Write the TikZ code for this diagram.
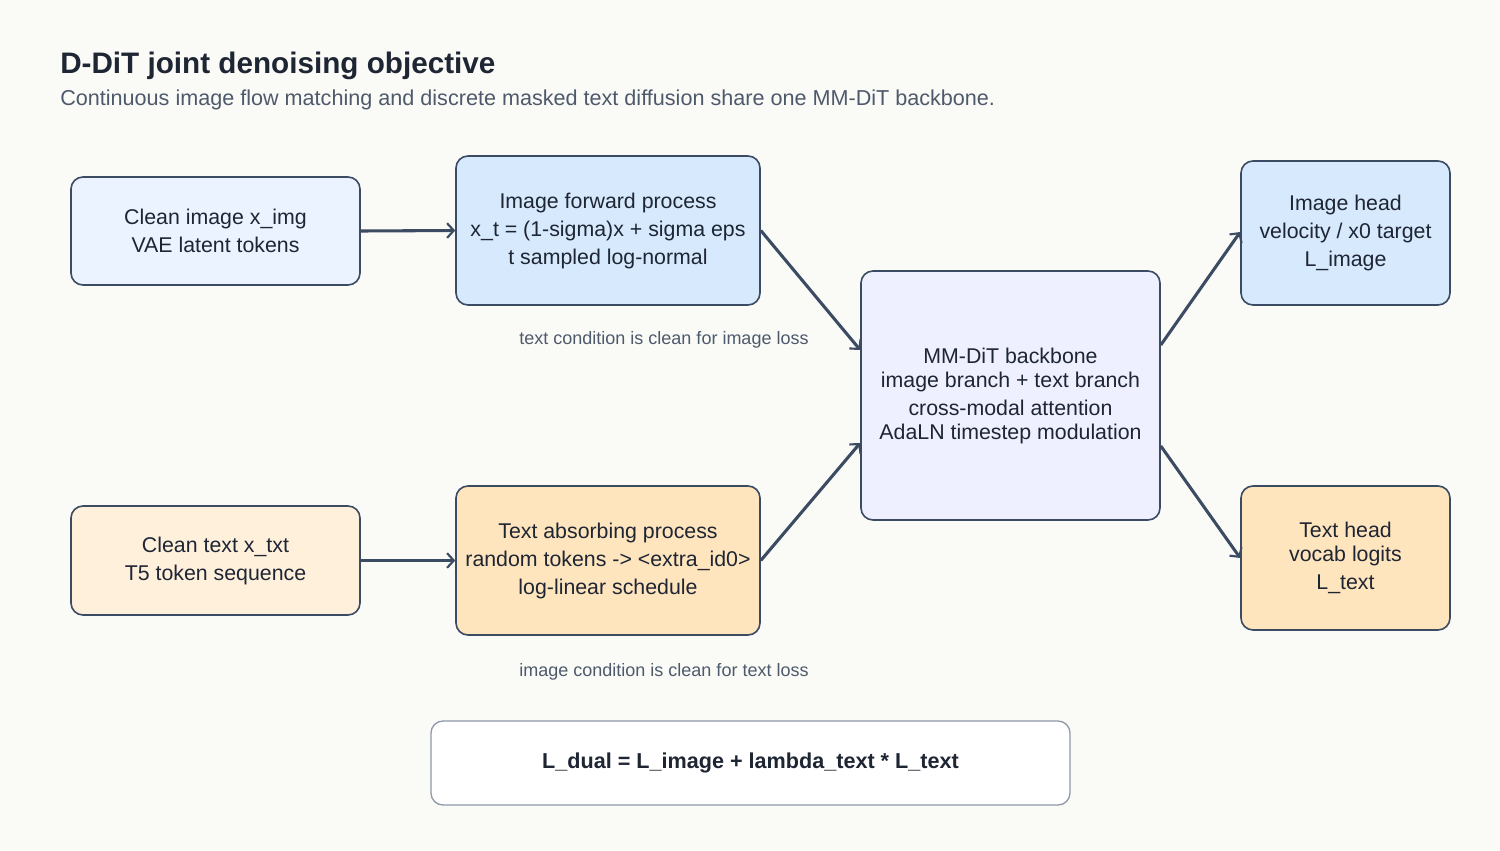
\documentclass[tikz,border=0pt]{standalone}
\usepackage{fontspec}
\setmainfont{Liberation Sans}
\usetikzlibrary{arrows.meta,calc}
\definecolor{bg}{HTML}{FAFAF7}
\definecolor{edge}{HTML}{3B4B62}
\definecolor{ink}{HTML}{1E2533}
\definecolor{sub}{HTML}{4E5A6B}
\definecolor{fA}{HTML}{EAF3FF}
\definecolor{fB}{HTML}{D6E9FD}
\definecolor{fC}{HTML}{EEF0FF}
\definecolor{fE}{HTML}{FFF0DC}
\definecolor{fF}{HTML}{FFE5BE}
\definecolor{fH}{HTML}{FFFFFF}
\definecolor{hb}{HTML}{8E99A8}
\begin{document}
\begin{tikzpicture}[x=0.75pt,y=-0.75pt,
  box/.style={draw=edge, line width=1.2pt, rounded corners=9pt, align=center, inner sep=0pt, text=ink,
     font=\fontsize{16pt}{21pt}\selectfont},
  conn/.style={draw=edge, line width=2.3pt, -{Straight Barb[length=5pt,width=11pt,line width=1.6pt]}},
  note/.style={text=sub, font=\fontsize{13.5pt}{16pt}\selectfont, inner sep=0pt}]
\useasboundingbox[fill=bg] (0,0) rectangle (1500,850);

\node[anchor=base west, inner sep=0pt, text=ink, font=\bfseries\fontsize{22.25pt}{27pt}\selectfont] (title) at (60,73) {D-DiT joint denoising objective};
\node[anchor=base west, inner sep=0pt, text=sub, font=\fontsize{16.2pt}{19pt}\selectfont] (subtitle) at (60,105) {Continuous image flow matching and discrete masked text diffusion share one MM-DiT backbone.};

\node[box, fill=fA, minimum width={289*0.75pt}, minimum height={108*0.75pt}] (A) at (215.5,231) {Clean image x\_img\\VAE latent tokens};
\node[box, fill=fB, minimum width={304*0.75pt}, minimum height={149*0.75pt}] (B) at (608,230.5) {Image forward process\\x\_t = (1-sigma)x + sigma eps\\t sampled log-normal};
\node[box, fill=fC, minimum width={299*0.75pt}, minimum height={249*0.75pt}, font=\fontsize{16pt}{18pt}\selectfont] (C) at (1010.5,395.5) {MM-DiT backbone\\image branch + text branch\\[3pt]cross-modal attention\\AdaLN timestep modulation};
\node[box, fill=fB, minimum width={209*0.75pt}, minimum height={144*0.75pt}] (D) at (1345.5,233) {Image head\\velocity / x0 target\\L\_image};
\node[box, fill=fE, minimum width={289*0.75pt}, minimum height={109*0.75pt}] (E) at (215.5,560.5) {Clean text x\_txt\\T5 token sequence};
\node[box, fill=fF, minimum width={304*0.75pt}, minimum height={149*0.75pt}] (F) at (608,560.5) {Text absorbing process\\random tokens -> <extra\_id0>\\log-linear schedule};
\node[box, fill=fF, minimum width={209*0.75pt}, minimum height={144*0.75pt}, font=\fontsize{16pt}{18pt}\selectfont] (G) at (1345.5,558) {Text head\\vocab logits\\[3pt]L\_text};
\node[box, fill=fH, draw=hb, line width=1pt, minimum width={639*0.75pt}, minimum height={84*0.75pt}, font=\bfseries\fontsize{16.2pt}{18pt}\selectfont] (H) at (750.5,763) {L\_dual = L\_image + lambda\_text * L\_text};

\node[note] (n1) at (664,340) {text condition is clean for image loss};
\node[note] (n2) at (664,672) {image condition is clean for text loss};

\draw[conn] (A.east) -- (B.west);
\draw[conn] (E.east) -- (F.west);
\draw[conn] (B.east) -- ($(C.west)+(0,-45.5)$);
\draw[conn] (F.east) -- ($(C.west)+(0,47.5)$);
\draw[conn] ($(C.east)+(0,-50.5)$) -- ($(D.west)+(0,-1)$);
\draw[conn] ($(C.east)+(0,50.5)$) -- (G.west);
\end{tikzpicture}
\end{document}
